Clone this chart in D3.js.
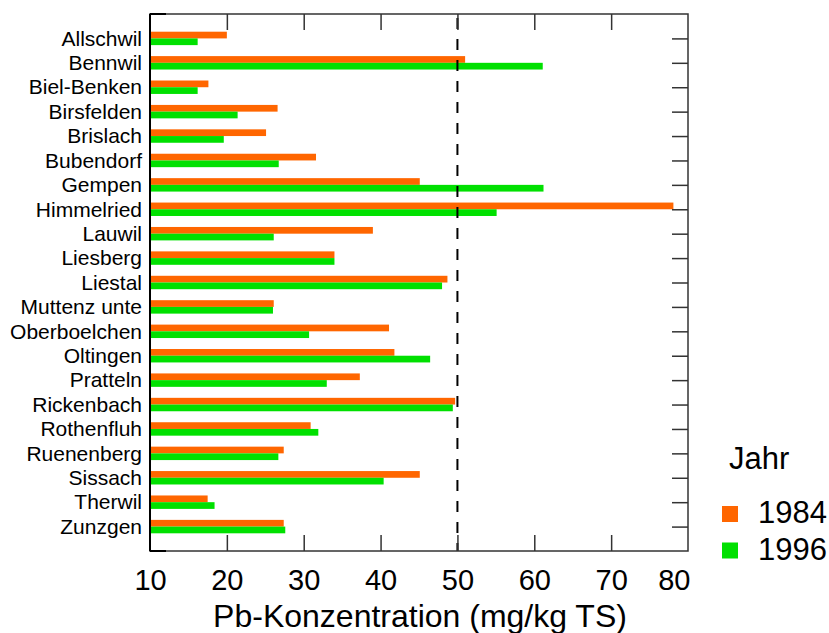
<!DOCTYPE html>
<html>
<head>
<meta charset="utf-8">
<script src="https://cdn.jsdelivr.net/npm/d3@7"></script>
<style>
  html, body { margin: 0; padding: 0; background: #fff; }
  svg { display: block; font-family: "Liberation Sans", Arial, sans-serif; }
</style>
</head>
<body>
<svg id="chart" width="829" height="633"></svg>
<script>
// Pb concentration per site, sampled in 1984 and 1996
const sites = ["Allschwil", "Bennwil", "Biel-Benken", "Birsfelden", "Brislach", "Bubendorf",
  "Gempen", "Himmelried", "Lauwil", "Liesberg", "Liestal", "Muttenz unte", "Oberboelchen",
  "Oltingen", "Pratteln", "Rickenbach", "Rothenfluh", "Ruenenberg", "Sissach", "Therwil", "Zunzgen"];
const pb1984 = [20.0, 51.0, 17.6, 26.6, 25.1, 31.6, 45.1, 78.1, 39.0, 34.0, 48.7, 26.1, 41.1,
  41.8, 37.3, 49.7, 30.9, 27.4, 45.1, 17.5, 27.4];
const pb1996 = [16.2, 61.1, 16.2, 21.4, 19.6, 26.75, 61.2, 55.1, 26.1, 34.0, 48.0, 26.0, 30.7,
  46.45, 33.0, 49.4, 31.9, 26.7, 40.4, 18.4, 27.6];
const years = ["1984", "1996"];
const xTicks = [10, 20, 30, 40, 50, 60, 70, 80];
const limitValue = 50;

const colors = { "1984": "#ff6600", "1996": "#00e000" };

const svg = d3.select("#chart");
const plotL = 150, plotR = 688, plotT = 14, plotB = 551;

const x = d3.scaleLinear().domain([10, 80]).range([plotL, plotR]);
const y = d3.scalePoint().domain(sites).range([plotT, plotB]).padding(1);
const barH = y.step() * 0.275;

const rows = sites.map((s, i) => ({ site: s, v1984: pb1984[i], v1996: pb1996[i] }));

// bars: 1984 above the row centre, 1996 below it
const g = svg.append("g");
g.selectAll("rect.b84").data(rows).join("rect")
  .attr("class", "b84")
  .attr("x", x(10)).attr("y", d => y(d.site) - barH)
  .attr("width", d => x(d.v1984) - x(10)).attr("height", barH)
  .attr("fill", colors["1984"]);
g.selectAll("rect.b96").data(rows).join("rect")
  .attr("class", "b96")
  .attr("x", x(10)).attr("y", d => y(d.site))
  .attr("width", d => x(d.v1996) - x(10)).attr("height", barH)
  .attr("fill", colors["1996"]);

// dashed reference line
svg.append("line")
  .attr("x1", x(limitValue)).attr("x2", x(limitValue))
  .attr("y1", plotT).attr("y2", plotB)
  .attr("stroke", "#000").attr("stroke-width", 2)
  .attr("stroke-dasharray", "11,10").attr("stroke-dashoffset", -4);

// frame
svg.append("rect")
  .attr("x", plotL).attr("y", plotT).attr("width", plotR - plotL).attr("height", plotB - plotT)
  .attr("fill", "none").attr("stroke", "#333").attr("stroke-width", 1.5);
svg.append("line").attr("x1", plotL).attr("x2", plotL).attr("y1", plotT).attr("y2", plotB)
  .attr("stroke", "#000").attr("stroke-width", 2);
[plotT, plotB].forEach(yy => svg.append("line")
  .attr("x1", plotL).attr("x2", plotL + 16).attr("y1", yy).attr("y2", yy)
  .attr("stroke", "#000").attr("stroke-width", 2));

// bottom axis: inward ticks and labels
const tickLen = 16;
const xAxisB = d3.axisBottom(x).tickValues(xTicks).tickSizeInner(-tickLen).tickSizeOuter(0).tickPadding(tickLen + 2);
const gb = svg.append("g").attr("transform", `translate(0,${plotB})`).call(xAxisB);
gb.select(".domain").remove();
gb.selectAll(".tick line").attr("stroke", "#333").attr("stroke-width", 1.5)
  .filter(d => d === 10 || d === 80).remove();
gb.selectAll(".tick text").attr("font-size", 29).attr("fill", "#000")
  .attr("font-family", "Liberation Sans, Arial, sans-serif");
// last label kept inside the canvas
gb.selectAll(".tick text").filter(d => d === 80).attr("text-anchor", "end").attr("dx", 2);

// top axis: inward ticks only
const xAxisT = d3.axisTop(x).tickValues(xTicks.filter(d => d !== 10 && d !== 80))
  .tickSizeInner(-tickLen).tickSizeOuter(0).tickFormat("");
const gt = svg.append("g").attr("transform", `translate(0,${plotT})`).call(xAxisT);
gt.select(".domain").remove();
gt.selectAll(".tick line").attr("stroke", "#333").attr("stroke-width", 1.5);

// right axis: inward ticks at every site
const yAxisR = d3.axisRight(y).tickSizeInner(-tickLen).tickSizeOuter(0).tickFormat("");
const gr = svg.append("g").attr("transform", `translate(${plotR},0)`).call(yAxisR);
gr.select(".domain").remove();
gr.selectAll(".tick line").attr("stroke", "#333").attr("stroke-width", 1.5);

// left axis: site names
const yAxisL = d3.axisLeft(y).tickSize(0).tickPadding(8);
const gl = svg.append("g").attr("transform", `translate(${plotL},0)`).call(yAxisL);
gl.select(".domain").remove();
gl.selectAll(".tick text").attr("font-size", 21).attr("fill", "#000")
  .attr("font-family", "Liberation Sans, Arial, sans-serif");

// axis title
svg.append("text")
  .attr("x", 420).attr("y", 627)
  .attr("text-anchor", "middle").attr("font-size", 32)
  .text("Pb-Konzentration (mg/kg TS)");

// legend
svg.append("text").attr("x", 729).attr("y", 469).attr("font-size", 31).text("Jahr");
const leg = svg.append("g").selectAll("g").data(years).join("g")
  .attr("transform", (d, i) => `translate(722,${506 + i * 36.5})`);
leg.append("rect").attr("width", 16).attr("height", 16).attr("fill", d => colors[d]);
leg.append("text").attr("x", 36).attr("y", 17).attr("font-size", 31).text(d => d);
</script>
</body>
</html>
